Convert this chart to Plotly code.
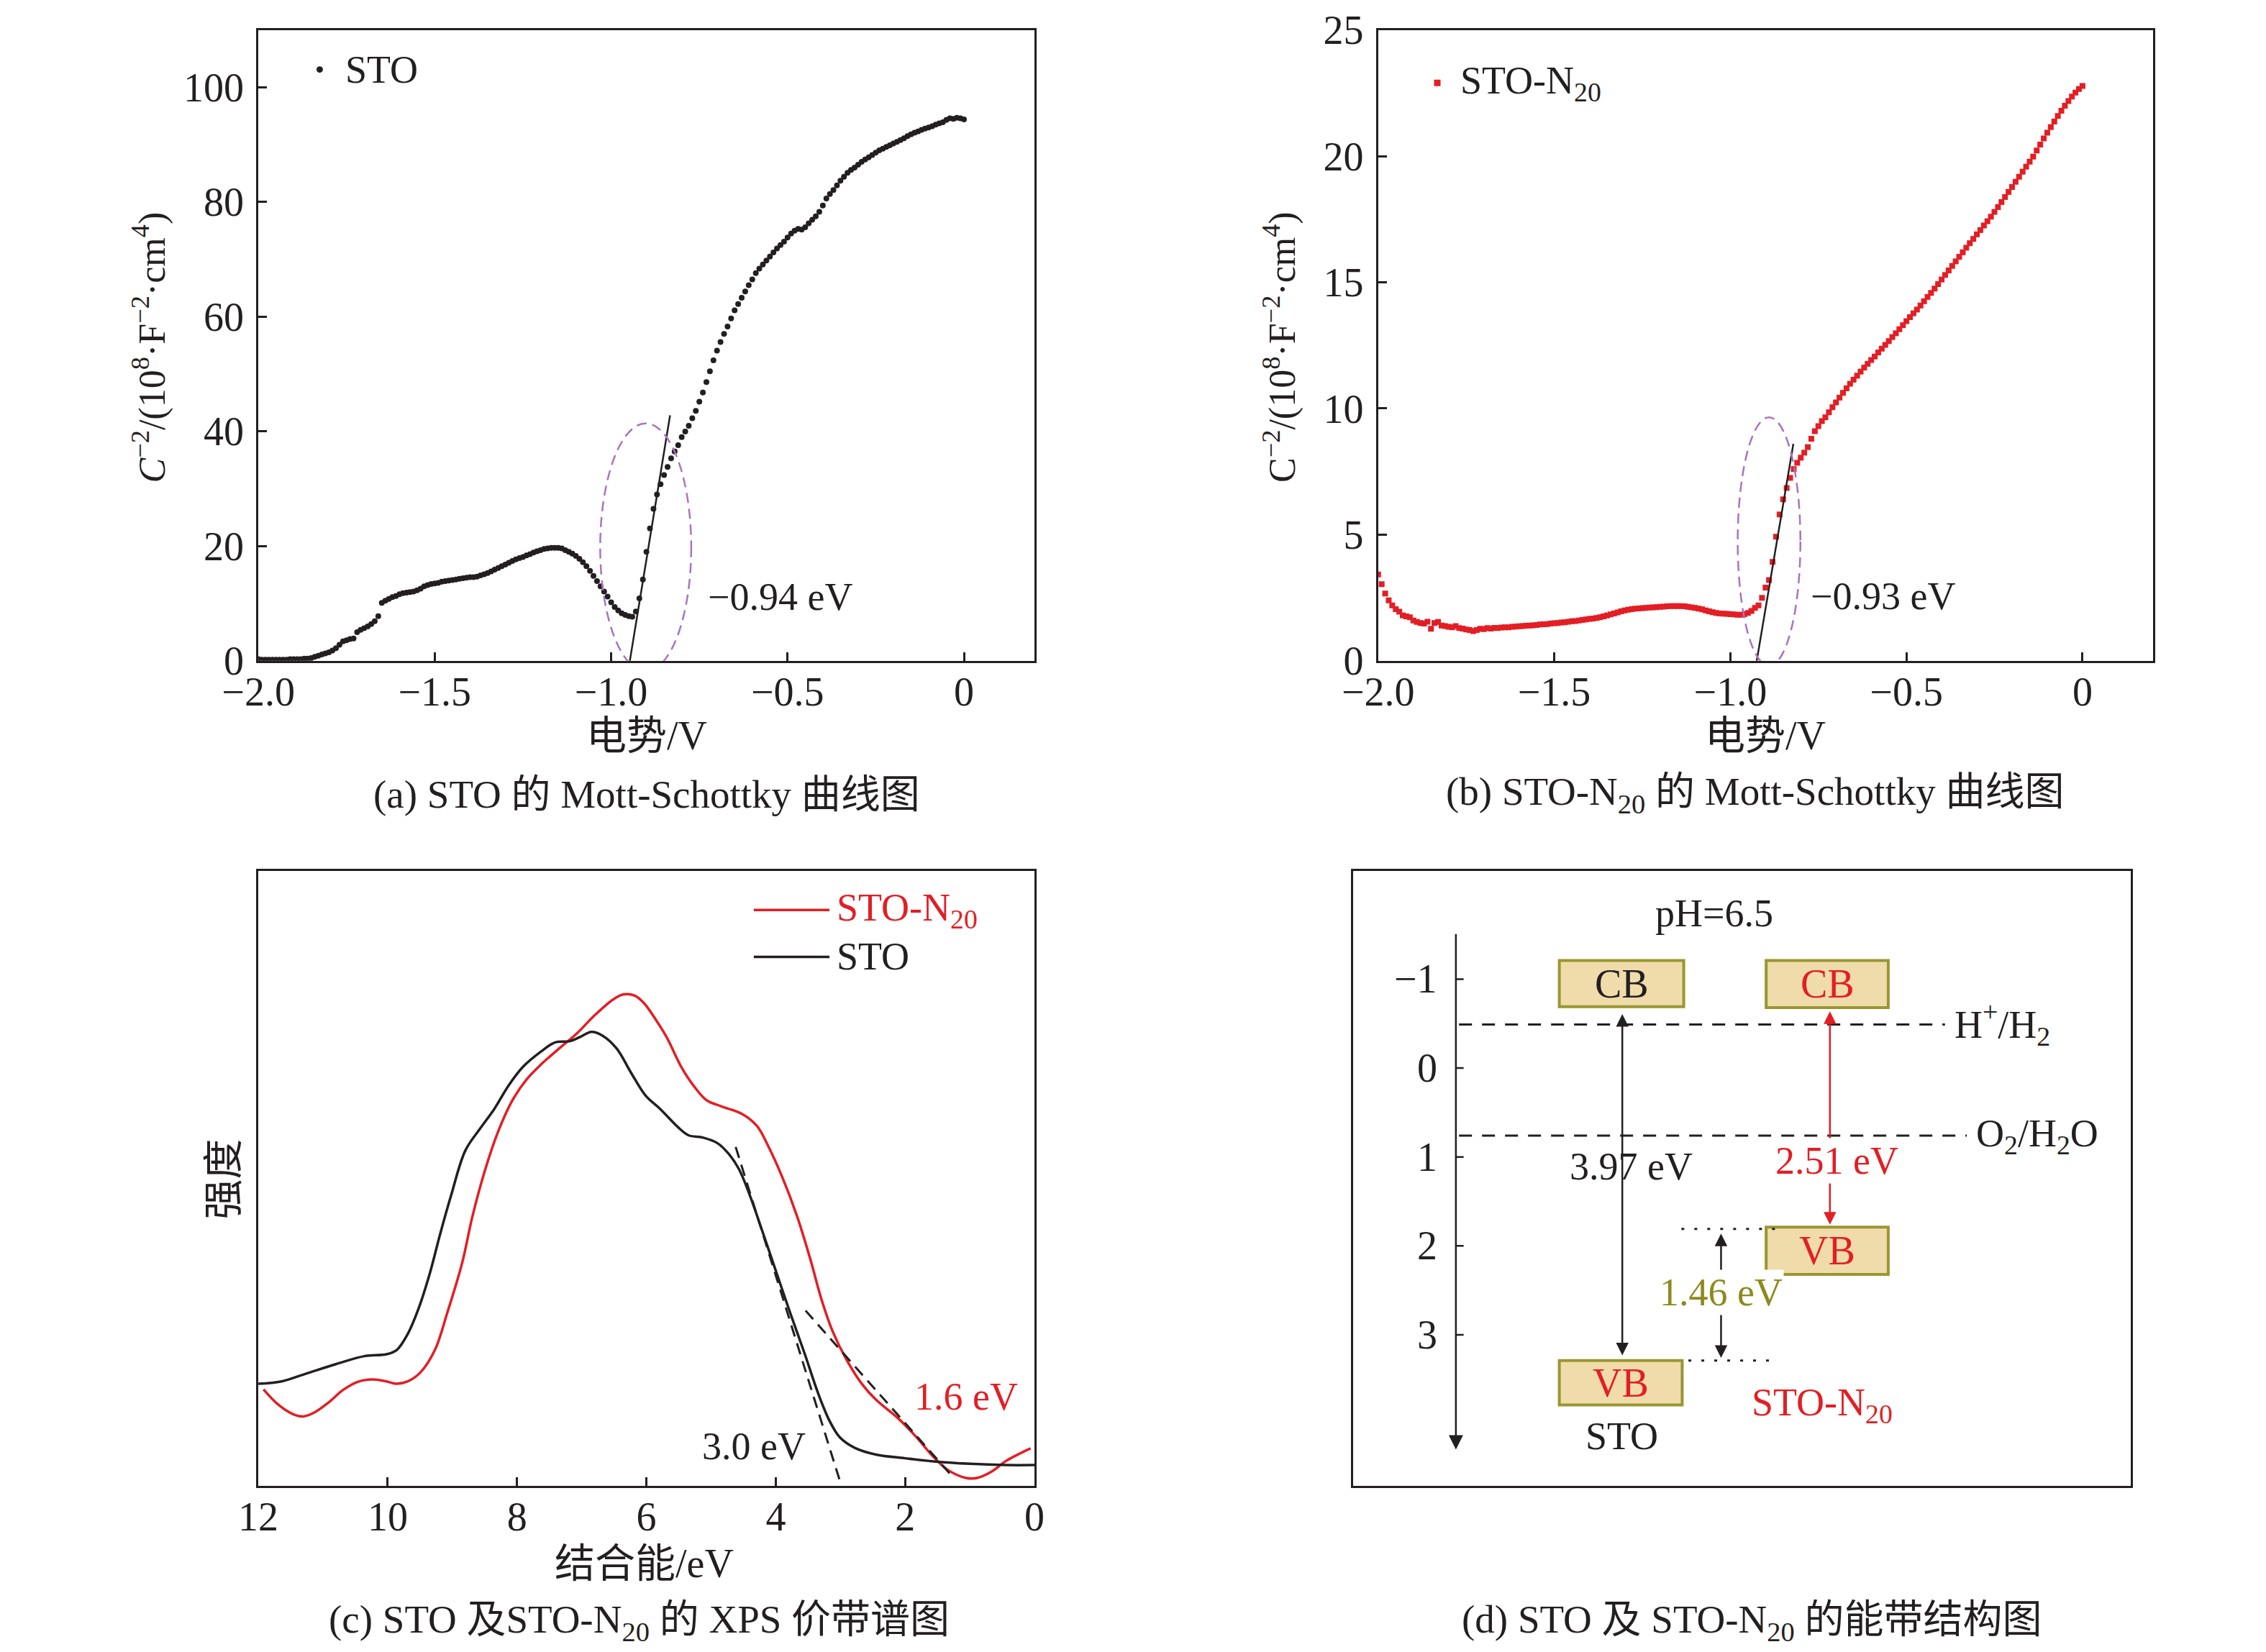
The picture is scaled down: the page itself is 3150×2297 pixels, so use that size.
import numpy as np
import plotly.graph_objects as go

W, H = 3150, 2297
FONT = "Liberation Serif, Noto Sans CJK SC"
INK = "#231f20"
RED = "#e31e24"
OLIVE = "#8c8a1e"
PURPLE = "#a974bb"

# (a) STO Mott-Schottky, 0.01 V steps from -2.00 V to 0.00 V
sto_ms = [
    0.3, 0.2, 0.2, 0.2, 0.2, 0.2, 0.2, 0.2, 0.2, 0.3,
    0.3, 0.3, 0.3, 0.4, 0.4, 0.5, 0.7, 0.9, 1.1, 1.3,
    1.5, 1.8, 2.2, 2.8, 3.4, 3.6, 3.8, 3.9, 5.0, 5.4,
    5.7, 6.0, 6.4, 6.9, 7.8, 10.1, 10.5, 10.8, 11.1, 11.3,
    11.6, 11.8, 11.9, 12.0, 12.1, 12.3, 12.6, 13.0, 13.2, 13.4,
    13.5, 13.6, 13.8, 13.9, 14.0, 14.1, 14.2, 14.3, 14.4, 14.5,
    14.6, 14.6, 14.7, 14.9, 15.1, 15.3, 15.6, 15.9, 16.2, 16.5,
    16.8, 17.1, 17.4, 17.7, 17.9, 18.1, 18.4, 18.6, 18.9, 19.1,
    19.3, 19.5, 19.6, 19.7, 19.7, 19.7, 19.6, 19.3, 19.0, 18.7,
    18.3, 17.8, 17.2, 16.5, 15.7, 14.8, 13.9, 13.0, 12.1, 11.2,
    10.2, 9.4, 8.8, 8.3, 8.0, 7.8, 7.7, 8.6, 10.9, 14.2,
    19.0, 23.1, 26.5, 29.0, 30.8, 32.4, 33.8, 35.3, 36.5, 37.6,
    39.0, 40.0, 41.0, 42.3, 43.6, 45.2, 46.8, 48.6, 50.5, 52.4,
    54.1, 55.6, 57.0, 58.3, 59.7, 61.1, 62.2, 63.3, 64.4, 65.5,
    66.5, 67.6, 68.4, 69.1, 69.8, 70.5, 71.2, 71.9, 72.5, 73.1,
    73.8, 74.5, 75.0, 75.3, 75.2, 75.6, 76.3, 76.9, 77.5, 78.3,
    79.4, 80.6, 81.4, 82.1, 82.9, 83.7, 84.4, 85.1, 85.6, 86.0,
    86.5, 87.0, 87.4, 87.8, 88.2, 88.6, 89.0, 89.3, 89.6, 89.9,
    90.2, 90.5, 90.8, 91.1, 91.5, 91.8, 92.1, 92.3, 92.6, 92.8,
    93.0, 93.2, 93.5, 93.7, 93.9, 94.3, 94.6, 94.5, 94.7, 94.6,
    94.4,
]
# (b) STO-N20 Mott-Schottky, same potentials
n20_ms = [
    3.42, 3.04, 2.67, 2.40, 2.20, 2.05, 1.95, 1.80, 1.76, 1.73,
    1.60, 1.54, 1.50, 1.48, 1.55, 1.27, 1.50, 1.54, 1.40, 1.38,
    1.35, 1.33, 1.38, 1.30, 1.28, 1.24, 1.22, 1.18, 1.22, 1.27,
    1.26, 1.30, 1.28, 1.31, 1.30, 1.32, 1.33, 1.33, 1.35, 1.36,
    1.37, 1.38, 1.39, 1.40, 1.41, 1.42, 1.44, 1.45, 1.46, 1.48,
    1.49, 1.50, 1.52, 1.53, 1.55, 1.57, 1.58, 1.60, 1.62, 1.64,
    1.66, 1.68, 1.70, 1.73, 1.76, 1.80, 1.84, 1.88, 1.92, 1.96,
    2.00, 2.03, 2.05, 2.07, 2.08, 2.09, 2.10, 2.11, 2.12, 2.13,
    2.14, 2.15, 2.16, 2.17, 2.17, 2.17, 2.17, 2.16, 2.14, 2.12,
    2.10, 2.07, 2.04, 2.00, 1.96, 1.93, 1.90, 1.88, 1.87, 1.86,
    1.85, 1.84, 1.83, 1.83, 1.85, 1.90, 1.98, 2.10, 2.20, 2.50,
    2.90, 3.20, 3.92, 4.92, 5.80, 6.40, 6.85, 7.25, 7.60, 7.85,
    8.05, 8.25, 8.47, 8.80, 9.10, 9.30, 9.50, 9.65, 9.85, 10.05,
    10.24, 10.43, 10.62, 10.80, 10.98, 11.14, 11.30, 11.46, 11.62, 11.77,
    11.92, 12.06, 12.22, 12.37, 12.52, 12.67, 12.83, 12.98, 13.14, 13.30,
    13.46, 13.62, 13.77, 13.92, 14.08, 14.25, 14.42, 14.58, 14.75, 14.93,
    15.11, 15.29, 15.47, 15.65, 15.83, 16.01, 16.19, 16.37, 16.55, 16.72,
    16.90, 17.07, 17.25, 17.42, 17.60, 17.79, 17.98, 18.18, 18.38, 18.58,
    18.78, 18.98, 19.18, 19.38, 19.58, 19.78, 19.98, 20.22, 20.46, 20.70,
    20.93, 21.15, 21.37, 21.59, 21.80, 22.00, 22.18, 22.36, 22.52, 22.66,
    22.78,
]
potential = np.round(np.linspace(-2.0, 0.0, len(sto_ms)), 2)

# tangent lines (flat-band extrapolation)
sto_tangent_v = [-0.947, -0.833]
sto_tangent_c = [0.0, 42.8]
n20_tangent_v = [-0.925, -0.821]
n20_tangent_c = [0.0, 8.6]

# (c) XPS valence band
be_n20 = [11.92, 11.69, 11.47, 11.30, 11.14, 10.91, 10.69, 10.47, 10.24, 10.02,
          9.86, 9.69, 9.49, 9.27, 9.08, 8.85, 8.69, 8.49, 8.30, 8.07,
          7.85, 7.63, 7.35, 7.07, 6.79, 6.51, 6.35, 6.18, 6.04, 5.85,
          5.68, 5.46, 5.26, 5.07, 4.84, 4.51, 4.29, 4.12, 3.90, 3.67,
          3.47, 3.29, 3.12, 2.90, 2.67, 2.45, 2.12, 1.84, 1.56, 1.34,
          1.06, 0.89, 0.67, 0.45, 0.22, 0.06]
int_n20 = [15.7, 13.2, 11.7, 11.3, 11.9, 13.6, 15.6, 16.9, 17.3, 17.0,
           16.6, 17.0, 18.5, 22.1, 28.1, 36.2, 43.8, 51.5, 57.4, 62.7,
           66.1, 68.5, 71.1, 73.6, 76.6, 79.1, 79.9, 79.7, 78.5, 75.7,
           72.8, 68.1, 64.9, 62.7, 61.7, 60.4, 58.5, 55.3, 50.2, 43.8,
           37.0, 30.2, 25.1, 20.4, 16.6, 14.0, 11.1, 8.1, 4.7, 2.6,
           1.3, 1.3, 2.3, 4.0, 5.3, 6.1]
be_sto = [12.0, 11.64, 11.25, 10.80, 10.36, 10.02, 9.86, 9.69, 9.52, 9.35,
          9.19, 9.02, 8.80, 8.57, 8.35, 8.13, 7.91, 7.63, 7.41, 7.18,
          7.02, 6.85, 6.68, 6.46, 6.24, 6.01, 5.79, 5.51, 5.35, 5.12,
          4.90, 4.73, 4.57, 4.40, 4.23, 4.01, 3.79, 3.56, 3.34, 3.17,
          3.01, 2.78, 2.45, 2.00, 1.56, 1.00, 0.45, 0.0]
int_sto = [16.6, 17.0, 18.3, 19.8, 21.1, 21.4, 22.1, 24.7, 28.9, 34.5,
           40.9, 47.2, 54.5, 58.1, 61.3, 65.1, 68.1, 70.6, 72.1, 72.3,
           73.0, 73.8, 73.2, 71.1, 67.2, 63.4, 61.3, 58.3, 57.0, 56.6,
           55.7, 54.0, 51.5, 47.2, 42.1, 35.3, 28.5, 21.7, 14.9, 10.6,
           7.9, 6.2, 5.1, 4.5, 4.0, 3.6, 3.4, 3.4]
sto_edge_be = [4.62, 3.01]
sto_edge_int = [55.1, 0.85]
n20_edge_be = [3.54, 1.25]
n20_edge_int = [28.5, 1.3]

# (d) band structure (potential / V)
energy_ticks = [-1, 0, 1, 2, 3]
redox_levels = [-0.49, 0.76]
redox_names = ["H<sup>+</sup>/H<sub>2</sub>", "O<sub>2</sub>/H<sub>2</sub>O"]
sto_cb = [-1.21, -0.69]
sto_vb = [3.29, 3.79]
n20_cb = [-1.21, -0.68]
n20_vb = [1.79, 2.32]
sto_gap = [-0.62, 3.23]
n20_gap = [-0.65, 1.76]
vb_shift = [1.85, 3.26]

S = 0.989  # my layout sketch was measured ~1 % too large


# page pixel positions -> figure fractions
def px(x):
    return S * x / W


def py(y):
    return 1 - S * y / H


fig = go.Figure()

# ---- panel a
fig.add_trace(go.Scatter(x=potential, y=sto_ms, mode="markers", name="STO",
                         marker=dict(color=INK, size=8), showlegend=False,
                         xaxis="x", yaxis="y"))
fig.add_trace(go.Scatter(x=sto_tangent_v, y=sto_tangent_c, mode="lines",
                         line=dict(color=INK, width=2.5), showlegend=False,
                         xaxis="x", yaxis="y"))
# ---- panel b
fig.add_trace(go.Scatter(x=potential, y=n20_ms, mode="markers", name="STO-N20",
                         marker=dict(color=RED, size=8, symbol="square"), showlegend=False,
                         xaxis="x2", yaxis="y2"))
fig.add_trace(go.Scatter(x=n20_tangent_v, y=n20_tangent_c, mode="lines",
                         line=dict(color=INK, width=2.5), showlegend=False,
                         xaxis="x2", yaxis="y2"))
# ---- panel c
fig.add_trace(go.Scatter(x=be_n20, y=int_n20, mode="lines", line=dict(color=RED, width=3.5, shape="spline"),
                         showlegend=False, xaxis="x3", yaxis="y3"))
fig.add_trace(go.Scatter(x=be_sto, y=int_sto, mode="lines", line=dict(color=INK, width=3.5, shape="spline"),
                         showlegend=False, xaxis="x3", yaxis="y3"))
fig.add_trace(go.Scatter(x=sto_edge_be, y=sto_edge_int, mode="lines",
                         line=dict(color=INK, width=3, dash="16px,10px"), showlegend=False,
                         xaxis="x3", yaxis="y3"))
fig.add_trace(go.Scatter(x=n20_edge_be, y=n20_edge_int, mode="lines",
                         line=dict(color=INK, width=3, dash="16px,10px"), showlegend=False,
                         xaxis="x3", yaxis="y3"))

TICK = 56
TXT = 54
tickfont = dict(family=FONT, size=TICK, color=INK)
common = dict(showline=True, linecolor=INK, linewidth=3, mirror=True, ticks="inside",
              ticklen=12, tickwidth=3, tickcolor=INK, showgrid=False, zeroline=False,
              tickfont=tickfont, ticklabeloverflow="allow", automargin=False)
bare = {**common, "ticks": "", "showticklabels": False}

v_ticks = [-2.0, -1.5, -1.0, -0.5, 0.0]
v_text = ["\u22122.0", "\u22121.5", "\u22121.0", "\u22120.5", "0"]

fig.update_layout(
    width=W, height=H, margin=dict(l=0, r=0, t=0, b=0, autoexpand=False),
    plot_bgcolor="white", paper_bgcolor="white", showlegend=False,
    font=dict(family=FONT, size=TXT, color=INK),
    xaxis=dict(domain=[px(355), px(1446)], range=[-2.0, 0.2], tickvals=v_ticks, ticktext=v_text,
               anchor="y", ticklabelstandoff=-8, **common),
    yaxis=dict(domain=[py(921), py(34)], range=[0, 110], tickvals=[0, 20, 40, 60, 80, 100],
               anchor="x", ticklabelstandoff=6, **common),
    xaxis2=dict(domain=[px(1929), px(3018)], range=[-2.0, 0.2], tickvals=v_ticks, ticktext=v_text,
                anchor="y2", ticklabelstandoff=-8, **common),
    yaxis2=dict(domain=[py(921), py(34)], range=[0, 25], tickvals=[0, 5, 10, 15, 20, 25],
                anchor="x2", ticklabelstandoff=6, **common),
    xaxis3=dict(domain=[px(355), px(1446)], range=[12, 0], tickvals=[12, 10, 8, 6, 4, 2, 0],
                anchor="y3", ticklabelstandoff=-8, **common),
    yaxis3=dict(domain=[py(2081), py(1216)], range=[0, 100], anchor="x3", **bare),
    xaxis4=dict(domain=[px(1894), px(2987)], range=[0, 10], anchor="y4", **bare),
    yaxis4=dict(domain=[py(2081), py(1216)], range=[4.70, -2.22], anchor="x4", **bare),
)

shapes = []
ann = []

# ellipses marking the linear region
shapes.append(dict(type="circle", xref="x", yref="y", x0=-1.031, x1=-0.773, y0=-1.8, y1=41.4,
                   line=dict(color=PURPLE, width=2.5, dash="14px,8px")))
shapes.append(dict(type="circle", xref="x2", yref="y2", x0=-0.979, x1=-0.801, y0=-0.2, y1=9.65,
                   line=dict(color=PURPLE, width=2.5, dash="14px,8px")))
ann.append(dict(x=-0.73, y=11.1, xref="x", yref="y", text="\u22120.94 eV", showarrow=False,
                xanchor="left", font=dict(size=TXT)))
ann.append(dict(x=-0.775, y=2.55, xref="x2", yref="y2", text="\u22120.93 eV", showarrow=False,
                xanchor="left", font=dict(size=TXT)))

# legends of panels a and b
shapes.append(dict(type="circle", xref="x", yref="y", xsizemode="pixel", ysizemode="pixel",
                   xanchor=-1.826, yanchor=103.1, x0=-4.5, x1=4.5, y0=-4.5, y1=4.5,
                   fillcolor=INK, line=dict(width=0)))
ann.append(dict(x=-1.758, y=103.1, xref="x", yref="y", text="STO", showarrow=False,
                xanchor="left", font=dict(size=TXT)))
shapes.append(dict(type="rect", xref="x2", yref="y2", xsizemode="pixel", ysizemode="pixel",
                   xanchor=-1.832, yanchor=22.9, x0=-4.5, x1=4.5, y0=-4.5, y1=4.5,
                   fillcolor=RED, line=dict(width=0)))
ann.append(dict(x=-1.77, y=22.9, xref="x2", yref="y2", text="STO-N<sub>20</sub>", showarrow=False,
                xanchor="left", font=dict(size=TXT)))

# panel c legend and labels
for yy, col, name in [(93.6, RED, "STO-N<sub>20</sub>"), (86.0, INK, "STO")]:
    shapes.append(dict(type="line", xref="x3", yref="y3", x0=4.34, x1=3.17, y0=yy, y1=yy,
                       line=dict(color=col, width=3.5)))
    ann.append(dict(x=3.08, y=yy, xref="x3", yref="y3", text=name, showarrow=False,
                    xanchor="left", font=dict(size=TXT, color=col)))
ann.append(dict(x=1.06, y=14.5, xref="x3", yref="y3", text="1.6 eV", showarrow=False,
                font=dict(size=TXT, color=RED)))
ann.append(dict(x=4.34, y=6.4, xref="x3", yref="y3", text="3.0 eV", showarrow=False,
                font=dict(size=TXT, color=INK)))

# panel d band diagram
AX = 1.32
ann.append(dict(x=AX, y=4.29, ax=AX, ay=-1.52, xref="x4", yref="y4", axref="x4", ayref="y4",
                text="", showarrow=True, arrowhead=2, arrowsize=1.6, arrowwidth=2.5, arrowcolor=INK))
for t in energy_ticks:
    shapes.append(dict(type="line", xref="x4", yref="y4", x0=AX, x1=AX + 0.1, y0=t, y1=t,
                       line=dict(color=INK, width=2.5)))
    ann.append(dict(x=1.1, y=t, xref="x4", yref="y4", text=("\u2212" + str(-t)) if t < 0 else str(t),
                    showarrow=False, xanchor="right", font=dict(size=TICK)))
for lvl, name, xe in zip(redox_levels, redox_names, [7.61, 7.89]):
    shapes.append(dict(type="line", xref="x4", yref="y4", x0=1.36, x1=xe, y0=lvl, y1=lvl,
                       line=dict(color=INK, width=3, dash="18px,14px")))
    ann.append(dict(x=xe + 0.1, y=lvl, xref="x4", yref="y4", text=name, showarrow=False,
                    xanchor="left", font=dict(size=TXT)))

BOX_FILL = "#f0dcaa"
BOX_LINE = "#9a9632"
for (x0, x1), (y0, y1), label, col in [
    ((2.65, 4.25), sto_cb, "CB", INK),
    ((5.31, 6.88), n20_cb, "CB", RED),
    ((5.31, 6.88), n20_vb, "VB", RED),
    ((2.65, 4.23), sto_vb, "VB", RED),
]:
    shapes.append(dict(type="rect", xref="x4", yref="y4", x0=x0, x1=x1, y0=y0, y1=y1,
                       fillcolor=BOX_FILL, line=dict(color=BOX_LINE, width=4)))
    ann.append(dict(x=(x0 + x1) / 2, y=(y0 + y1) / 2, xref="x4", yref="y4", text=label,
                    showarrow=False, font=dict(size=56, color=col)))

# dotted guides for the VB offset
shapes.append(dict(type="line", xref="x4", yref="y4", x0=4.22, x1=5.47, y0=1.81, y1=1.81,
                   line=dict(color=INK, width=3, dash="4px,14px")))
shapes.append(dict(type="line", xref="x4", yref="y4", x0=4.31, x1=5.38, y0=3.29, y1=3.29,
                   line=dict(color=INK, width=3, dash="4px,14px")))

for xx, (y_top, y_bot), col in [(3.46, sto_gap, INK), (6.13, n20_gap, RED), (4.73, vb_shift, INK)]:
    ann.append(dict(x=xx, y=y_bot, ax=xx, ay=y_top, xref="x4", yref="y4", axref="x4", ayref="y4",
                    text="", showarrow=True, arrowhead=2, startarrowhead=2, arrowside="end+start",
                    arrowsize=1.4, startarrowsize=1.4, arrowwidth=2.5, arrowcolor=col))
ann.append(dict(x=3.57, y=1.11, xref="x4", yref="y4", text="3.97 eV", showarrow=False,
                font=dict(size=TXT, color=INK)))
ann.append(dict(x=6.22, y=1.04, xref="x4", yref="y4", text="2.51 eV", showarrow=False,
                bgcolor="white", font=dict(size=TXT, color=RED)))
ann.append(dict(x=4.73, y=2.52, xref="x4", yref="y4", text="1.46 eV", showarrow=False,
                bgcolor="white", font=dict(size=TXT, color=OLIVE)))
ann.append(dict(x=4.64, y=-1.74, xref="x4", yref="y4", text="pH=6.5", showarrow=False,
                font=dict(size=TXT)))
ann.append(dict(x=3.45, y=4.14, xref="x4", yref="y4", text="STO", showarrow=False,
                font=dict(size=TXT)))
ann.append(dict(x=6.03, y=3.79, xref="x4", yref="y4", text="STO-N<sub>20</sub>", showarrow=False,
                font=dict(size=TXT, color=RED)))

# axis titles and captions (page pixels)
ytitle_a = "<i>C</i><sup>\u22122</sup>/(10<sup>8</sup>\u00b7F<sup>\u22122</sup>\u00b7cm<sup>4</sup>)"
ytitle_b = "C<sup>\u22122</sup>/(10<sup>8</sup>\u00b7F<sup>\u22122</sup>\u00b7cm<sup>4</sup>)"
texts = [
    (202, 480, ytitle_a, -90, 52),
    (1791, 480, ytitle_b, -90, 52),
    (901, 1026, "电势/V", 0, 56),
    (2473, 1026, "电势/V", 0, 56),
    (901, 1109, "(a) STO 的 Mott-Schottky 曲线图", 0, 55),
    (2459, 1109, "(b) STO-N<sub>20</sub> 的 Mott-Schottky 曲线图", 0, 55),
    (306, 1650, "强度", -90, 56),
    (897, 2190, "结合能/eV", 0, 56),
    (890, 2272, "(c) STO 及STO-N<sub>20</sub> 的 XPS 价带谱图", 0, 55),
    (2455, 2272, "(d) STO 及 STO-N<sub>20</sub> 的能带结构图", 0, 55),
]
for x, y, t, ang, size in texts:
    ann.append(dict(x=px(x), y=py(y), xref="paper", yref="paper", text=t, textangle=ang,
                    showarrow=False, xanchor="center", yanchor="middle", font=dict(size=size)))

fig.update_layout(shapes=shapes, annotations=ann)
fig.write_html("out.html")
